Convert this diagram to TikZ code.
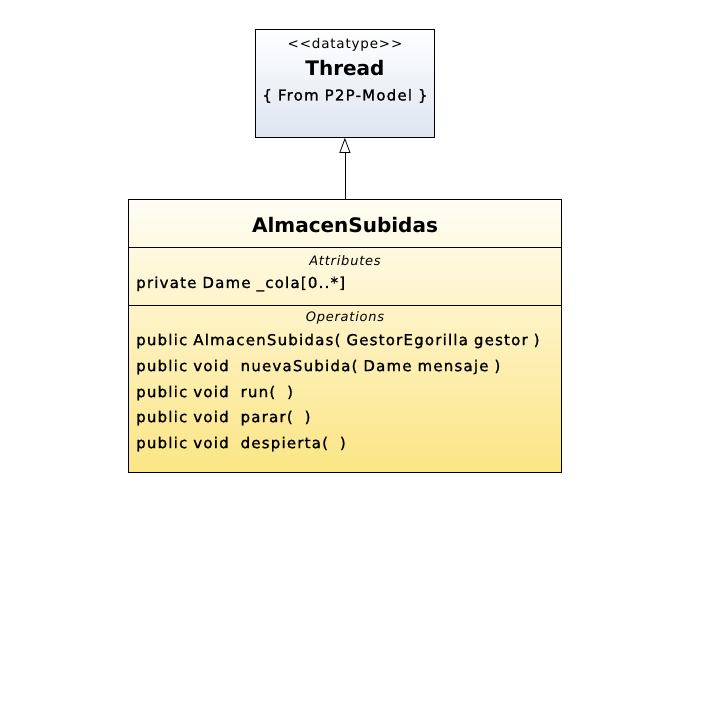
\documentclass[tikz,border=0pt]{standalone}
\usepackage{fontspec}
\setmainfont{DejaVu Sans}
\newfontfamily\umlfont[LetterSpace=8,FakeBold=1.2]{DejaVu Sans}
\newfontfamily\umlcapfont[LetterSpace=6]{DejaVu Sans}
\usetikzlibrary{arrows.meta}

\tikzset{
  classbox/.style={draw, line width=0.8pt, anchor=north west, inner sep=0pt},
  classname/.style={inner sep=0pt, font=\fontsize{20}{22}\selectfont\bfseries},
  member/.style={anchor=west, inner sep=0pt, font=\umlfont\fontsize{15}{17}\selectfont},
  caption/.style={inner sep=0pt, font=\umlcapfont\fontsize{13}{15}\selectfont\itshape},
}

\begin{document}
\begin{tikzpicture}[x=1pt, y=-1pt]
  \useasboundingbox[fill=white] (0,0) rectangle (708,724);

  %%%%% THREAD %%%%%
  \node[classbox, minimum width=179pt, minimum height=108pt,
        top color=white, bottom color={rgb,255:red,221;green,229;blue,241}]
        (thread) at (255,29) {};
  \node[inner sep=0pt, font=\umlcapfont\fontsize{13.5}{15}\selectfont] (stereo) at (345,45) {{<}{<}datatype{>}{>}};
  \node[classname] (tname) at (345,68) {Thread};
  \node[inner sep=0pt, font=\umlfont\fontsize{15}{17}\selectfont] (tfrom) at (345,96) {\{ From P2P-Model \}};

  %%%%% ALMACENSUBIDAS %%%%%
  \node[classbox, minimum width=433pt, minimum height=273pt,
        top color={rgb,255:red,255;green,253;blue,245}, bottom color={rgb,255:red,251;green,229;blue,132}]
        (almacen) at (128,199) {};
  \coordinate (attrtop) at (128,247);
  \coordinate (opstop) at (128,305);
  \draw[line width=0.8pt] (attrtop) -- (attrtop -| almacen.east);
  \draw[line width=0.8pt] (opstop) -- (opstop -| almacen.east);

  \node[classname] (aname) at (345,225) {AlmacenSubidas};
  \node[caption] (attrcap) at (345,261) {Attributes};
  \node[member] (attr1) at (136,284) {private Dame \_cola[0..*]};
  \node[caption] (opscap) at (345,318) {Operations};
  \node[member] (op1) at (136,341) {public AlmacenSubidas( GestorEgorilla gestor )};
  \node[member] (op2) at (136,367) {public void\ \ nuevaSubida( Dame mensaje )};
  \node[member] (op3) at (136,393) {public void\ \ run(\ \ )};
  \node[member] (op4) at (136,418) {public void\ \ parar(\ \ )};
  \node[member] (op5) at (136,444) {public void\ \ despierta(\ \ )};

  %%%%% GENERALIZATION %%%%%
  \draw[line width=0.8pt, -{Triangle[open, length=15pt, width=11pt]}] (almacen.north) -- (thread.south);
\end{tikzpicture}
\end{document}
